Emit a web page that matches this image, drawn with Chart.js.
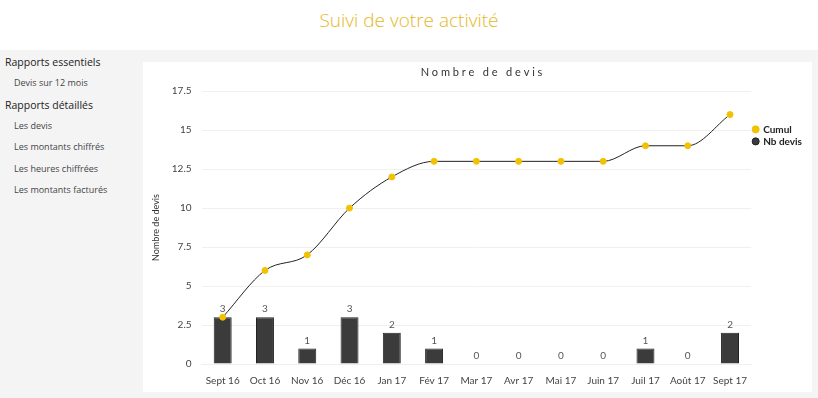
<!DOCTYPE html>
<html>
<head>
<meta charset="utf-8">
<script src="https://cdn.jsdelivr.net/npm/chart.js@4"></script>
<style>
  html, body { margin: 0; padding: 0; width: 818px; height: 398px; overflow: hidden; background: #fff; font-family: Lato, "Open Sans", sans-serif; }
  .top { height: 50px; position: relative; }
  .top h1 { position: absolute; left: 0; width: 818px; top: 7px; margin: 0; text-align: center; font-family: "Open Sans", sans-serif; font-weight: 300; font-size: 19px; color: #e6b71e; }
  .page { position: absolute; top: 50px; left: 0; width: 818px; height: 348px; background: #f4f4f4; }
  .side { position: absolute; left: 5px; top: 5px; font-family: "Open Sans", sans-serif; }
  .side .h { font-size: 10.5px; color: #222; height: 21px; line-height: 14px; }
  .side .i { font-size: 9px; color: #444; padding-left: 9px; height: 21.5px; line-height: 14px; }
  .card { position: absolute; left: 143px; top: 12px; width: 669px; height: 330px; background: #fff; }
</style>
</head>
<body>
<div class="top"><h1>Suivi de votre activité</h1></div>
<div class="page">
  <div class="side">
    <div class="h">Rapports essentiels</div>
    <div class="i">Devis sur 12 mois</div>
    <div class="h">Rapports détaillés</div>
    <div class="i">Les devis</div>
    <div class="i">Les montants chiffrés</div>
    <div class="i">Les heures chiffrées</div>
    <div class="i">Les montants facturés</div>
  </div>
  <div class="card"><canvas id="chart" width="669" height="330"></canvas></div>
</div>
<script>
// Month labels
const months = ['Sept 16', 'Oct 16', 'Nov 16', 'Déc 16', 'Jan 17', 'Fév 17', 'Mar 17', 'Avr 17', 'Mai 17', 'Juin 17', 'Juil 17', 'Août 17', 'Sept 17'];
// Number of quotes per month
const nbDevis = [3, 3, 1, 3, 2, 1, 0, 0, 0, 0, 1, 0, 2];
// Running total
const cumul = [3, 6, 7, 10, 12, 13, 13, 13, 13, 13, 14, 14, 16];

const YELLOW = '#f2c200';
const DARK = '#3b3b3b';

// draw bar values above each bar
const barValues = {
  id: 'barValues',
  afterDatasetsDraw(chart) {
    const ctx = chart.ctx;
    const meta = chart.getDatasetMeta(1);
    ctx.save();
    ctx.font = '10px Lato, sans-serif';
    ctx.fillStyle = '#555';
    ctx.textAlign = 'center';
    ctx.textBaseline = 'bottom';
    meta.data.forEach((bar, i) => {
      ctx.fillText(nbDevis[i], bar.x, bar.y - 3);
    });
    ctx.restore();
  }
};

new Chart(document.getElementById('chart').getContext('2d'), {
  type: 'bar',
  data: {
    labels: months,
    datasets: [
      {
        type: 'line',
        label: 'Cumul',
        data: cumul,
        borderColor: '#222',
        borderWidth: 1,
        cubicInterpolationMode: 'monotone',
        pointRadius: 3,
        pointBackgroundColor: YELLOW,
        pointBorderColor: YELLOW,
        backgroundColor: YELLOW,
        order: 0,
      },
      {
        label: 'Nb devis',
        data: nbDevis,
        backgroundColor: DARK,
        borderColor: '#222',
        borderWidth: 1,
        barPercentage: 0.85,
        categoryPercentage: 0.5,
        order: 1,
      },
    ],
  },
  options: {
    responsive: false,
    animation: false,
    layout: { padding: { left: 8, right: 0, top: 4, bottom: 2 } },
    plugins: {
      title: {
        display: true,
        text: 'N o m b r e   d e   d e v i s',
        color: '#333',
        font: { family: 'Lato, sans-serif', size: 11, weight: 'normal' },
        padding: { top: 0, bottom: 12 },
      },
      legend: {
        position: 'right',
        align: 'start',
        title: { display: true, text: '', padding: { top: 42 } },
        labels: {
          usePointStyle: true,
          pointStyle: 'circle',
          boxWidth: 5,
          boxHeight: 5,
          padding: 2,
          color: '#222',
          font: { family: 'Lato, sans-serif', size: 10, weight: 'bold' },
        },
      },
      tooltip: { enabled: false },
    },
    scales: {
      x: {
        grid: { display: false },
        border: { color: '#eee' },
        ticks: { color: '#444', font: { family: 'Lato, sans-serif', size: 10 }, maxRotation: 0, autoSkip: false },
      },
      y: {
        min: 0,
        max: 17.5,
        title: { display: true, text: 'Nombre de devis', color: '#333', padding: 0, font: { family: 'Lato, sans-serif', size: 9 } },
        grid: { color: '#f0f0f0', drawTicks: false },
        border: { display: false },
        ticks: { stepSize: 2.5, color: '#444', padding: 10, font: { family: 'Lato, sans-serif', size: 10 } },
      },
    },
  },
  plugins: [barValues],
});
</script>
</body>
</html>
